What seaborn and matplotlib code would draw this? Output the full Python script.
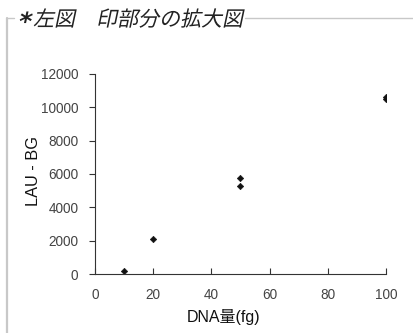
import matplotlib.pyplot as plt
import pandas as pd
import seaborn as sns
from matplotlib.font_manager import FontProperties
from matplotlib.lines import Line2D
from matplotlib.patches import PathPatch
from matplotlib.textpath import TextPath
from matplotlib.transforms import Affine2D, IdentityTransform

# values
dna_fg = [10, 20, 50, 50, 100, 100]
lau_bg = [200, 2100, 5300, 5750, 10500, 10600]
x_ticks = [0, 20, 40, 60, 80, 100]
y_ticks = [0, 2000, 4000, 6000, 8000, 10000, 12000]
title_mark = "*"
title = "左図　印部分の拡大図"

df = pd.DataFrame({"DNA量(fg)": dna_fg, "LAU - BG": lau_bg})

sns.set_theme(style="white")
plt.rcParams["font.family"] = ["Liberation Sans", "Noto Sans CJK JP", "DejaVu Sans"]

fig = plt.figure(figsize=(4.14, 3.33), dpi=100)
ax = fig.add_axes([0.2295, 0.177, 0.932 - 0.2295, 0.778 - 0.177])

sns.scatterplot(data=df, x="DNA量(fg)", y="LAU - BG", marker="D", s=11,
                color="#111111", edgecolor="#111111", linewidth=0.4, ax=ax)

ax.set_xlim(0, 100)
ax.set_ylim(0, 12000)
ax.set_xticks(x_ticks)
ax.set_yticks(y_ticks)
ax.tick_params(bottom=True, left=True, labelsize=9.8, colors="#333333",
               labelcolor="#444444", length=4, width=0.8)
ax.tick_params(axis="x", direction="in", pad=10)
ax.tick_params(axis="y", direction="out", pad=8)
ax.set_xlabel("DNA量(fg)", fontsize=11.5, color="#111111", va="center")
ax.set_ylabel("LAU - BG", fontsize=11.8, color="#111111", va="center")
ax.xaxis.set_label_coords(0.443, -0.215)
ax.yaxis.set_label_coords(-0.21, 0.5125)
for side in ["top", "right"]:
    ax.spines[side].set_visible(False)
for side in ["left", "bottom"]:
    ax.spines[side].set_color("#333333")
    ax.spines[side].set_linewidth(0.8)

# frame around the figure, like a boxed caption
fig.add_artist(Line2D([7 / 414, 7 / 414], [0, 1 - 18 / 333], color="#c8c8c8", lw=1.6))
fig.add_artist(Line2D([7 / 414, 14 / 414], [1 - 18 / 333, 1 - 18 / 333], color="#c8c8c8", lw=1.0))
fig.add_artist(Line2D([245 / 414, 1], [1 - 18 / 333, 1 - 18 / 333], color="#c8c8c8", lw=1.0))

# italic (slanted) caption title drawn as skewed text paths, in pixel coords
skew = Affine2D().skew_deg(12, 0)
mark = TextPath((0, 0), title_mark, size=25, prop=FontProperties(family="DejaVu Sans", weight="bold"))
words = TextPath((0, 0), title, size=21, prop=FontProperties(family="Noto Sans CJK JP"))
for tp, x0, y0 in [(mark, 17, 333 - 30), (words, 33, 333 - 26)]:
    tr = skew + Affine2D().translate(x0, y0)
    fig.add_artist(PathPatch(tr.transform_path(tp), facecolor="#222222", edgecolor="none",
                             transform=IdentityTransform()))

fig.savefig("out.png", dpi=100)
